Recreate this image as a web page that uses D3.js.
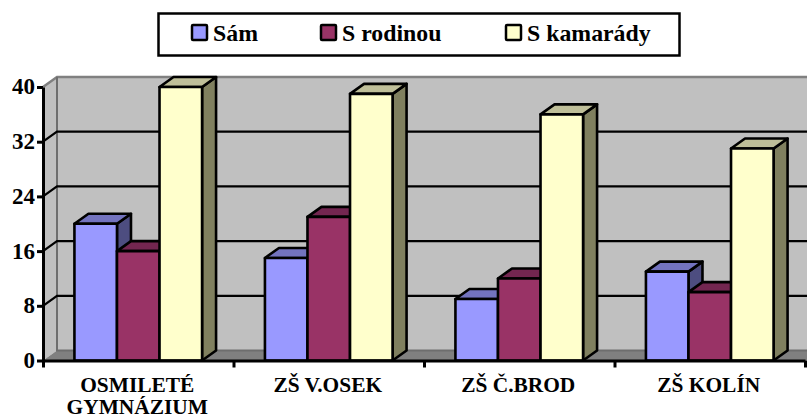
<!DOCTYPE html>
<html>
<head>
<meta charset="utf-8">
<script src="https://cdn.jsdelivr.net/npm/d3@7"></script>
<style>
  html, body { margin: 0; padding: 0; background: #fff; }
  svg { display: block; }
  text { font-family: "Liberation Serif", serif; font-weight: bold; fill: #000; }
</style>
</head>
<body>
<div id="root"></div>
<script>
'use strict';

var categories = [['OSMILETÉ', 'GYMNÁZIUM'], ['ZŠ V.OSEK'], ['ZŠ Č.BROD'], ['ZŠ KOLÍN']];
var seriesNames = ['Sám', 'S rodinou', 'S kamarády'];
var samValues = [20, 15, 9, 13];
var rodinouValues = [16, 21, 12, 10];
var kamaradyValues = [40, 39, 36, 31];
var yTicks = [0, 8, 16, 24, 32, 40];

var allValues = [samValues, rodinouValues, kamaradyValues];
var fronts = ['#9999ff', '#993366', '#ffffcc'];
var tops = ['#7373bf', '#732650', '#bfbf99'];
var sides = ['#4d4d80', '#4d1a33', '#80805f'];

var width = 807;
var height = 419;
var left = 43;
var right = 805;
var bottom = 360.5;
var top40 = 87;
var depthX = 14;
var depthY = 10;

var svg = d3.select('#root').append('svg')
  .attr('width', width)
  .attr('height', height);

var yScale = d3.scaleLinear().domain([0, 40]).range([bottom, top40]);
var xCat = d3.scaleBand()
  .domain(d3.range(categories.length))
  .range([left, right])
  .paddingInner(0.33)
  .paddingOuter(0.165);
var xSeries = d3.scaleBand().domain(d3.range(seriesNames.length)).range([0, xCat.bandwidth()]);
var xEdges = d3.scaleLinear().domain([0, categories.length]).range([left, right]);

var line = d3.line();

// walls and floor
svg.append('path')
  .attr('d', line([[left, top40], [left + depthX, top40 - depthY], [width + 5, top40 - depthY], [width + 5, bottom - depthY], [left + depthX, bottom - depthY], [left, bottom]]) + 'Z')
  .attr('fill', '#c0c0c0');
svg.append('path')
  .attr('d', line([[left, bottom], [left + depthX, bottom - depthY], [width + 5, bottom - depthY], [width + 5, bottom]]) + 'Z')
  .attr('fill', '#808080');
svg.append('path')
  .attr('d', line([[left, top40], [left + depthX, top40 - depthY], [width + 5, top40 - depthY]]))
  .attr('fill', 'none').attr('stroke', '#808080').attr('stroke-width', 2.5);
svg.append('path')
  .attr('d', line([[left + depthX, top40 - depthY], [left + depthX, bottom - depthY], [width + 5, bottom - depthY]]))
  .attr('fill', 'none').attr('stroke', '#6e6e6e').attr('stroke-width', 2);

// gridlines bend round the left wall
svg.append('g').selectAll('path')
  .data(yTicks.filter(d => d > 0 && d < 40))
  .join('path')
  .attr('d', d => line([[left, yScale(d)], [left + depthX, yScale(d) - depthY], [width + 5, yScale(d) - depthY]]))
  .attr('fill', 'none')
  .attr('stroke', '#000')
  .attr('stroke-width', 2.2);

// bars, left to right so each front covers the neighbour's side
var bars = [];
categories.forEach(function(c, i) {
  seriesNames.forEach(function(s, j) {
    bars.push({ cat: i, ser: j, value: allValues[j][i] });
  });
});

var barG = svg.append('g').selectAll('g')
  .data(bars)
  .join('g')
  .attr('stroke', '#000')
  .attr('stroke-width', 2.6)
  .attr('stroke-linejoin', 'round');

function barX(d) { return xCat(d.cat) + xSeries(d.ser); }

barG.append('path')
  .attr('fill', d => sides[d.ser])
  .attr('d', function(d) {
    var x = barX(d) + xSeries.bandwidth();
    var y = yScale(d.value);
    return line([[x, y], [x + depthX, y - depthY], [x + depthX, bottom - depthY], [x, bottom]]) + 'Z';
  });
barG.append('path')
  .attr('fill', d => tops[d.ser])
  .attr('d', function(d) {
    var x = barX(d);
    var w = xSeries.bandwidth();
    var y = yScale(d.value);
    return line([[x, y], [x + depthX, y - depthY], [x + w + depthX, y - depthY], [x + w, y]]) + 'Z';
  });
barG.append('rect')
  .attr('fill', d => fronts[d.ser])
  .attr('x', barX)
  .attr('y', d => yScale(d.value))
  .attr('width', xSeries.bandwidth())
  .attr('height', d => bottom - yScale(d.value));

// axes
var yAxis = svg.append('g')
  .attr('transform', 'translate(' + left + ',0)')
  .call(d3.axisLeft(yScale).tickValues(yTicks).tickSize(6).tickPadding(2).tickSizeOuter(0));
yAxis.selectAll('text')
  .attr('font-size', 23)
  .attr('dy', '0.3em')
  .style('font-family', '"Liberation Serif", serif');

var edgeAxis = svg.append('g')
  .attr('transform', 'translate(0,' + bottom + ')')
  .call(d3.axisBottom(xEdges).ticks(categories.length).tickSize(7).tickSizeOuter(0).tickFormat(''));

[yAxis, edgeAxis].forEach(function(a) {
  a.selectAll('path, line').attr('stroke', '#000').attr('stroke-width', 3);
});

// category labels
svg.append('g').selectAll('text')
  .data(categories)
  .join('text')
  .attr('text-anchor', 'middle')
  .attr('font-size', 21.4)
  .each(function(lines, i) {
    d3.select(this).selectAll('tspan')
      .data(lines)
      .join('tspan')
      .attr('x', xCat(i) + xCat.bandwidth() / 2 - 1)
      .attr('y', (d, k) => 392 + k * 22)
      .text(d => d);
  });

// legend
svg.append('rect')
  .attr('x', 158.5).attr('y', 13.5)
  .attr('width', 521).attr('height', 42)
  .attr('fill', '#fff')
  .attr('stroke', '#000')
  .attr('stroke-width', 2.5);

var legendX = d3.scaleOrdinal().domain(seriesNames).range([192, 321, 506]);
var legend = svg.append('g').selectAll('g')
  .data(seriesNames)
  .join('g')
  .attr('transform', d => 'translate(' + legendX(d) + ',25)');
legend.append('rect')
  .attr('width', 15).attr('height', 15)
  .attr('rx', 1)
  .attr('fill', (d, i) => fronts[i])
  .attr('stroke', '#000')
  .attr('stroke-width', 2.5);
legend.append('text')
  .attr('x', 21).attr('y', 16)
  .attr('font-size', 23.8)
  .text(d => d);
</script>
</body>
</html>
